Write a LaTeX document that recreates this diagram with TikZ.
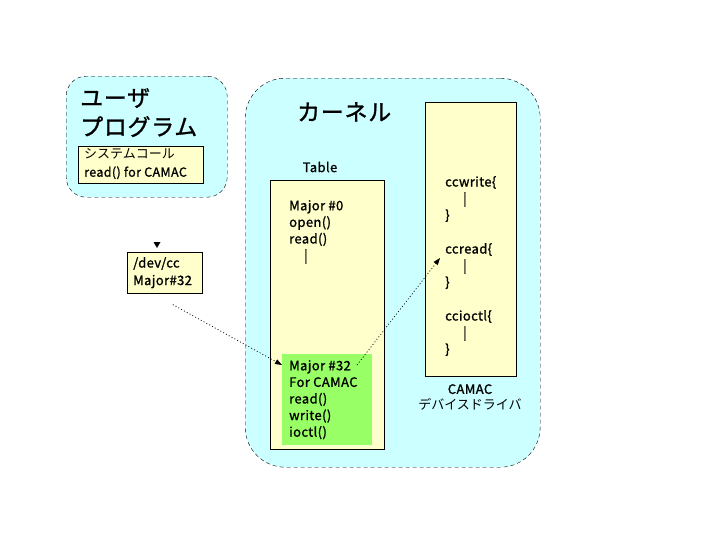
\documentclass[tikz,border=0pt]{standalone}
\usepackage{fontspec}
\setmainfont{Noto Sans CJK JP}
\newfontfamily\heavy{Noto Sans CJK JP}[FakeBold=1.2, LetterSpace=3]
\usepackage{tikz}
\usetikzlibrary{arrows.meta, positioning}

\definecolor{cyanfill}{HTML}{CCFFFF}
\definecolor{paperfill}{HTML}{FFFFCC}
\definecolor{greenfill}{HTML}{99FF66}

\begin{document}
\begin{tikzpicture}[x=1pt, y=-1pt,
		% zones arrondies (programme / noyau)
		zone/.style={
			fill=cyanfill,
			draw=black,
			line width=0.4pt,
			dash pattern=on 4pt off 3pt,
			rounded corners=#1,
			anchor=north west,
			inner sep=0pt
		},
		% boites jaunes
		paper/.style={
			fill=paperfill,
			draw=black,
			line width=0.6pt,
			anchor=north west,
			inner sep=0pt
		},
		% textes des boites
		txt/.style={
			font=\heavy\fontsize{13}{16.6}\selectfont,
			align=left,
			anchor=north west,
			inner sep=0pt
		},
		title/.style={
			font=\heavy\fontsize{23}{29}\selectfont,
			align=left,
			anchor=north west,
			inner sep=0pt
		},
		link/.style={
			dash pattern=on 1pt off 2.2pt,
			line width=0.7pt,
			-{Triangle[length=7pt,width=5pt]}
		}
		]
		\useasboundingbox (0,0) rectangle (719,539);
		
		% --- ZONES ---
		\node[zone=20pt, minimum width=161pt, minimum height=121pt] (user) at (66,76) {};
		\node[zone=40pt, minimum width=295pt, minimum height=389pt] (kernel) at (245,78) {};
		
		% --- PROGRAMME UTILISATEUR ---
		\node[title] (usertitle) at (80,88) {ユーザ\\プログラム};
		\node[paper, minimum width=125pt, minimum height=37pt] (syscall) at (78,146) {};
		\node[txt, font=\fontsize{13}{18.5}\selectfont] (syscalltxt) at (84,148) {システムコール\\{\heavy\fontsize{12.5}{18.5}\selectfont read() for CAMAC}};
		
		% --- /dev/cc ---
		\node[paper, minimum width=75pt, minimum height=41pt] (devcc) at (127,252) {};
		\node[txt, font=\heavy\fontsize{13}{17.5}\selectfont] (devcctxt) at (133,257) {/dev/cc\\Major\#32};
		\fill (153.5,242) -- (160.5,242) -- (157,248) -- cycle;
		
		% --- NOYAU ---
		\node[title] (kerneltitle) at (297,102) {カーネル};
		\node[txt, anchor=center] (tabletitle) at (320,167) {Table};
		\node[paper, minimum width=114pt, minimum height=269pt] (table) at (270,180) {};
		\node[txt] (tabletxt) at (289,200) {Major \#0\\open()\\read()\\\hspace*{15pt}|};
		\node[fill=greenfill, anchor=north west, inner sep=0pt,
			minimum width=90pt, minimum height=91pt] (major) at (282,354) {};
		\node[txt] (majortxt) at (289,360) {Major \#32\\For CAMAC\\read()\\write()\\ioctl()};
		
		% --- PILOTE CAMAC ---
		\node[paper, minimum width=91pt, minimum height=274pt] (driver) at (425,102) {};
		\node[txt] (wr) at (445,176) {ccwrite\{\\\hspace*{18pt}|\\\}};
		\node[txt] (rd) at (445,243) {ccread\{\\\hspace*{18pt}|\\\}};
		\node[txt] (ioc) at (445,310) {ccioctl\{\\\hspace*{18pt}|\\\}};
		\node[txt, anchor=north, align=center, font=\fontsize{13}{15.5}\selectfont] (drivertxt) at (470,384) {{\heavy CAMAC}\\デバイスドライバ};
		
		% --- FLECHES ---
		\coordinate (from) at ([xshift=8pt,yshift=-11pt]devcc.south);
		\coordinate (to) at ([yshift=-11pt]major.north west);
		\coordinate (out) at ([xshift=75pt,yshift=-11pt]major.north west);
		\coordinate (in) at ([xshift=-5pt,yshift=-15pt]rd.north west);
		\draw[link] (from) -- (to);
		\draw[link] (out) -- (in);
		
	\end{tikzpicture}
\end{document}
